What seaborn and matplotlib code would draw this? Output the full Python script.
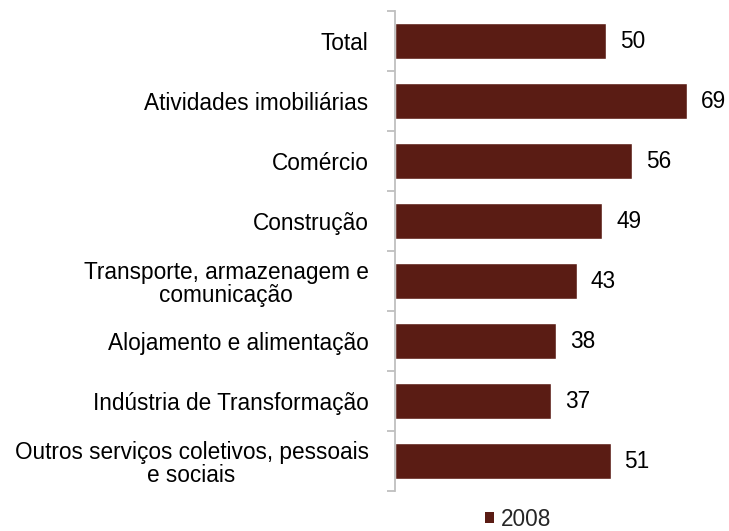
import matplotlib
matplotlib.use("Agg")
import matplotlib.pyplot as plt
from matplotlib.patches import Patch
import numpy as np
import pandas as pd
import seaborn as sns

categories = [
    "Total",
    "Atividades imobiliárias",
    "Comércio",
    "Construção",
    "Transporte, armazenagem e\ncomunicação",
    "Alojamento e alimentação",
    "Indústria de Transformação",
    "Outros serviços coletivos, pessoais\ne sociais",
]
values_2008 = [50, 69, 56, 49, 43, 38, 37, 51]
series_name = "2008"

bar_color = "#5a1c14"
axis_grey = "#bfbfbf"
fs = 16.3

df = pd.DataFrame({"setor": categories, "valor": values_2008})

sns.set_theme(style="white")
plt.rcParams["font.family"] = ["Liberation Sans", "DejaVu Sans"]

fig = plt.figure(figsize=(7.29, 5.31), dpi=100)
ax = fig.add_axes([395 / 729, 1 - 491 / 531, 1 - 395 / 729, 480 / 531])

sns.barplot(data=df, y="setor", x="valor", orient="h", color=bar_color,
            saturation=1, width=0.6, ax=ax)

ax.set_xlim(0, 79)
ax.set_ylim(len(categories) - 0.5, -0.5)
ax.set_xlabel("")
ax.set_ylabel("")
ax.set_xticks([])

for s in ["top", "right", "bottom"]:
    ax.spines[s].set_visible(False)
ax.spines["left"].set_color(axis_grey)
ax.spines["left"].set_linewidth(1.3)

ax.tick_params(axis="y", which="major", length=0, pad=19, labelsize=fs,
               colors="black")
ax.set_yticks(np.arange(-0.5, len(categories), 1.0), minor=True)
ax.tick_params(axis="y", which="minor", length=6, width=1.3, color=axis_grey,
               left=True)
for lbl in ax.get_yticklabels():
    lbl.set_multialignment("center")
    lbl.set_horizontalalignment("right")
    lbl.set_linespacing(1.05)

for i, v in enumerate(values_2008):
    ax.text(v + 3.3, i, str(v), va="center", ha="left", fontsize=fs,
            color="black")

handles = [Patch(facecolor=bar_color, edgecolor="none", label=series_name)]
fig.legend(handles=handles, loc="center", bbox_to_anchor=(518 / 729, 1 - 519 / 531),
           frameon=False, fontsize=fs, handlelength=0.4, handleheight=0.4,
           handletextpad=0.3, borderaxespad=0, borderpad=0)

fig.savefig("out.png", dpi=100)
